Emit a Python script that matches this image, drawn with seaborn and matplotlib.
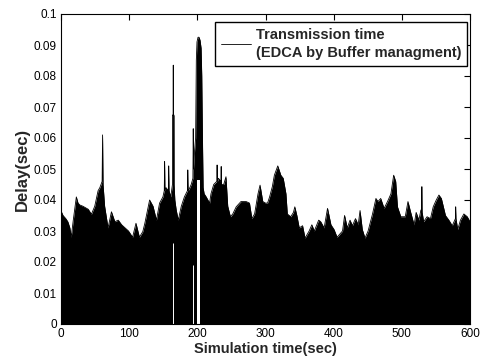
import matplotlib
matplotlib.use('Agg')
import matplotlib.pyplot as plt
import seaborn as sns
import pandas as pd

# -------------------------------------------------------
# Data: upper edge of the delay trace
# -------------------------------------------------------
sim_time = [
    0, 3, 7, 10, 13, 15, 18, 22.5, 25, 27.5, 32, 36, 40, 44.6, 49.5, 54.4, 57,
    60.3, 61, 61.7, 64, 69, 74, 79, 84, 89, 94, 99, 105, 110, 115, 120, 123,
    130, 135, 140, 144.6, 149.5, 151.5, 152, 152.5, 154, 157.5, 158, 158.5,
    161, 163.5, 163.7, 164.5, 164.7, 164.9, 165.7, 165.9, 167, 169, 172,
    176.5, 181, 185.5, 186, 186.5, 188, 191, 193.5, 194, 194.5, 196, 197.5,
    198.5, 199.5, 201, 202.5, 204, 205.5, 206.5, 207.5, 208.5, 210, 213, 218,
    220, 224, 228.5, 229, 229.5, 231, 234.5, 235, 235.5, 238.7, 242, 244.6,
    248.5, 252, 257, 264, 271.6, 276.5, 280, 284, 289, 292, 296, 300, 303,
    306, 310, 313, 318, 322.5, 326, 330, 332, 337, 341, 343, 346, 349.5,
    354.4, 358, 364, 368, 371.6, 378, 381, 386, 391, 396, 400.5, 405, 413,
    416, 420, 424, 427.5, 432, 436, 438.7, 442, 446, 450.5, 457, 462, 465,
    469, 474, 479, 484, 488, 491, 493.6, 498.5, 505, 509, 513, 518, 521, 525,
    528, 529, 529.4, 529.8, 532, 537, 542, 546, 550.5, 554.4, 558, 564, 569,
    574, 578.6, 579, 579.4, 582, 586, 591, 596, 600,
]
delay = [
    0.0365, 0.035, 0.034, 0.033, 0.031, 0.028, 0.0335, 0.041, 0.039, 0.0384,
    0.038, 0.0375, 0.037, 0.0354, 0.038, 0.043, 0.044,
    0.046, 0.061, 0.045, 0.038, 0.031, 0.0362, 0.033, 0.0335, 0.032, 0.031,
    0.030, 0.028, 0.0325, 0.028, 0.0298, 0.0325,
    0.040, 0.038, 0.0335, 0.039, 0.041, 0.043, 0.0524, 0.043, 0.044, 0.043,
    0.051, 0.043,
    0.041, 0.045, 0.0674, 0.0674, 0.0835, 0.0674, 0.0674, 0.045, 0.040,
    0.0368, 0.0335,
    0.038, 0.041, 0.043, 0.0497, 0.043, 0.0435, 0.045, 0.047, 0.063, 0.050,
    0.056, 0.060,
    0.085, 0.091, 0.0925, 0.0925, 0.0915, 0.089, 0.080, 0.060, 0.044, 0.042,
    0.041, 0.039,
    0.042, 0.045, 0.046, 0.0513, 0.046, 0.047, 0.046, 0.0508, 0.045, 0.045,
    0.0475, 0.038,
    0.0346, 0.0355, 0.0378, 0.0395, 0.0395, 0.039, 0.034, 0.0355, 0.042,
    0.0448, 0.0395, 0.039, 0.039,
    0.041, 0.0443, 0.048, 0.051, 0.048, 0.047, 0.042, 0.0355, 0.0346, 0.036,
    0.0378, 0.035, 0.031,
    0.0317, 0.0277, 0.030, 0.032, 0.030, 0.0335, 0.033, 0.031, 0.0373, 0.032,
    0.0305, 0.028, 0.030,
    0.035, 0.031, 0.0335, 0.0317, 0.034, 0.032, 0.0366, 0.0305, 0.0277,
    0.030, 0.0355, 0.0405, 0.0395,
    0.0405, 0.0373, 0.0395, 0.042, 0.048, 0.046, 0.0378, 0.0346, 0.0346,
    0.0395, 0.036, 0.032, 0.036, 0.0335,
    0.0368, 0.036, 0.0443, 0.036, 0.033, 0.0346, 0.034, 0.0378, 0.040,
    0.0416, 0.0405, 0.035, 0.0335,
    0.0317, 0.034, 0.0378, 0.034, 0.0305, 0.0335, 0.0355, 0.0346, 0.033,
]

# stretch under the big peak where the trace never drops to zero
gap_start, gap_end, gap_top = 199.5, 204.5, 0.0465
# thin white slits under the spikes
slit_time = [164.0, 193.3]
slit_top = [0.026, 0.019]

x_ticks = [0, 100, 200, 300, 400, 500, 600]
y_ticks = [0, 0.01, 0.02, 0.03, 0.04, 0.05, 0.06, 0.07, 0.08, 0.09, 0.1]
y_ticklabels = ['0', '0.01', '0.02', '0.03', '0.04', '0.05', '0.06',
                '0.07', '0.08', '0.09', '0.1']

df = pd.DataFrame({'time': sim_time, 'delay': delay})

# -------------------------------------------------------
# Plot
# -------------------------------------------------------
sns.set_style('white')
plt.rcParams['font.family'] = ['Liberation Sans', 'DejaVu Sans']

fig = plt.figure(figsize=(4.89, 3.58), dpi=100)
ax = fig.add_axes([61 / 489, 1 - 324 / 358, 409 / 489, 310 / 358])

ax.fill_between(df['time'], 0, df['delay'], color='black', linewidth=0)
sns.lineplot(data=df, x='time', y='delay', ax=ax, color='black',
             linewidth=0.6, label='Transmission time\n(EDCA by Buffer managment)')
ax.fill_between([gap_start, gap_end], 0, gap_top, color='white', linewidth=0)
ax.vlines(slit_time, 0, slit_top, colors='white', linewidth=0.7)

ax.set_xlim(0, 600)
ax.set_ylim(0, 0.1)
ax.set_xticks(x_ticks)
ax.set_yticks(y_ticks)
ax.set_yticklabels(y_ticklabels)
ax.tick_params(direction='in', top=True, right=True, length=4, width=0.8,
               labelsize=8.5, colors='black', pad=3)
for s in ax.spines.values():
    s.set_color('black')
    s.set_linewidth(0.8)

ax.set_xlabel('Simulation time(sec)', fontsize=10.5, fontweight='bold', labelpad=1)
ax.set_ylabel('Delay(sec)', fontsize=12, fontweight='bold', labelpad=3)

leg = ax.legend(loc='upper right', bbox_to_anchor=(0.993, 0.974),
                borderaxespad=0, fancybox=False, framealpha=1,
                edgecolor='black', handlelength=2.1, handletextpad=0.3,
                prop={'size': 10.5, 'weight': 'bold'})
leg.get_frame().set_linewidth(1.0)
for t in leg.get_texts():
    t.set_linespacing(1.4)

fig.savefig('out.png', dpi=100)
